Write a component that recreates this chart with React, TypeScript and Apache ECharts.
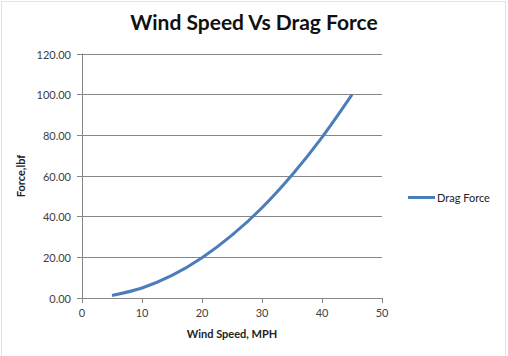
import React, { useEffect, useRef } from "react";
import * as echarts from "echarts";

const windSpeed = [5, 10, 15, 20, 25, 30, 35, 40, 45];
const dragForce = [1.23, 4.94, 11.1, 19.8, 30.9, 44.4, 60.5, 79.0, 100.0];
const seriesName = "Drag Force";
const titleText = "Wind Speed Vs Drag Force";
const xAxisName = "Wind Speed, MPH";
const yAxisName = "Force,lbf";

export default function App() {
  const ref = useRef<HTMLDivElement>(null);
  useEffect(() => {
    if (!ref.current) return;
    const chart = echarts.init(ref.current, undefined, { renderer: "svg" });
    const font = "Lato";
    const axisGrey = "#878787";
    chart.setOption({
      animation: false,
      backgroundColor: "#ffffff",
      title: {
        text: titleText,
        left: "center",
        top: 11,
        padding: 0,
        textStyle: { fontFamily: font, fontWeight: "bold", fontSize: 21, color: "#111111" },
      },
      graphic: [
        {
          type: "rect",
          shape: { x: 1.5, y: 1.5, width: 504, height: 360 },
          style: { fill: "none", stroke: "#e2e2e2", lineWidth: 1 },
          silent: true,
        },
      ],
      legend: {
        left: 408,
        top: 192,
        padding: 0,
        orient: "vertical",
        itemWidth: 27,
        itemHeight: 3,
        itemGap: 4,
        icon: "rect",
        textStyle: { fontFamily: font, fontSize: 11, color: "#222222", padding: [0, 0, 0, -3] },
        data: [{ name: seriesName }],
      },
      grid: { left: 82, top: 54, width: 300, height: 244, containLabel: false },
      xAxis: {
        type: "value",
        min: 0,
        max: 50,
        interval: 10,
        name: xAxisName,
        nameLocation: "middle",
        nameGap: 30,
        nameTextStyle: { fontFamily: font, fontWeight: "bold", fontSize: 11, color: "#222222" },
        axisLine: { show: true, lineStyle: { color: axisGrey, width: 1 } },
        axisTick: { show: true, inside: false, length: 5, lineStyle: { color: axisGrey } },
        axisLabel: { fontFamily: font, fontSize: 11, color: "#404040", margin: 9 },
        splitLine: { show: false },
      },
      yAxis: {
        type: "value",
        min: 0,
        max: 120,
        interval: 20,
        name: yAxisName,
        nameLocation: "middle",
        nameGap: 50,
        nameRotate: 90,
        nameTextStyle: { fontFamily: font, fontWeight: "bold", fontSize: 11, color: "#222222" },
        axisLine: { show: true, lineStyle: { color: axisGrey, width: 1 } },
        axisTick: { show: true, inside: false, length: 5, lineStyle: { color: axisGrey } },
        axisLabel: {
          fontFamily: font,
          fontSize: 11,
          color: "#404040",
          margin: 11,
          formatter: (v: number) => v.toFixed(2),
        },
        splitLine: { show: true, lineStyle: { color: axisGrey, width: 1 } },
      },
      series: [
        {
          name: seriesName,
          type: "line",
          smooth: 0.3,
          showSymbol: false,
          symbol: "none",
          data: windSpeed.map((x, i) => [x, dragForce[i]]),
          lineStyle: { color: "#4a7ebb", width: 3 },
          itemStyle: { color: "#4a7ebb" },
        },
      ],
    });
    return () => chart.dispose();
  }, []);
  return (
    <div
      ref={ref}
      style={{ position: "absolute", left: 0, top: 0, width: 508, height: 356 }}
    />
  );
}
